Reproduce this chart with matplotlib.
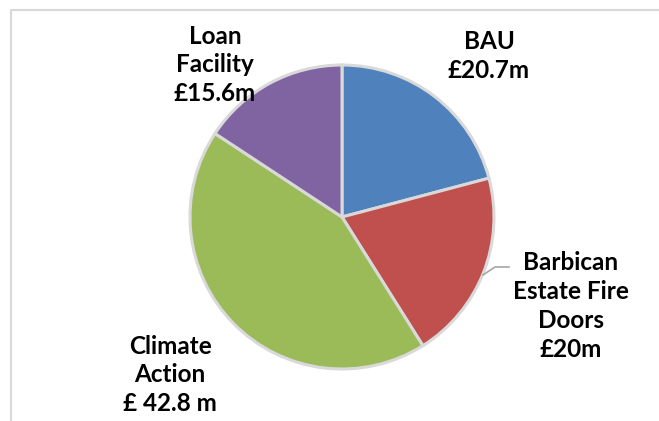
import matplotlib
matplotlib.use("Agg")
import matplotlib.pyplot as plt
from matplotlib.lines import Line2D

# -----------------------------------------
# DATOS
# -----------------------------------------
categorias = ["BAU", "Barbican\nEstate Fire\nDoors", "Climate\nAction", "Loan\nFacility"]
valores = [20.7, 20.0, 42.8, 15.6]
etiquetas = ["£20.7m", "£20m", "£ 42.8 m", "£15.6m"]
colores = ["#4F81BD", "#C0504D", "#9BBB59", "#8064A2"]

W, H = 659, 421
fig = plt.figure(figsize=(W / 100, H / 100), dpi=100)
ax = fig.add_axes([0, 0, 1, 1])

# pie centre / radius in pixel units (y from bottom)
cx, cy, r = 342, H - 217, 152

ax.pie(
    valores,
    colors=colores,
    startangle=90,
    counterclock=False,
    center=(cx, cy),
    radius=r,
    frame=True,
    wedgeprops=dict(edgecolor="#d9d9d9", linewidth=2.2),
)
ax.set_xlim(0, W)
ax.set_ylim(0, H)
ax.set_aspect("equal")
ax.axis("off")

# label positions (centre of text block)
pos = [(489, H - 56), (571, H - 306), (170, H - 375), (215, H - 65)]

for nombre, etq, (x, y) in zip(categorias, etiquetas, pos):
    ax.text(
        x, y, f"{nombre}\n{etq}",
        ha="center", va="center",
        fontsize=17.5, fontweight="bold", family="Lato",
        linespacing=1.3, color="black",
    )

# leader line for Barbican
ax.plot([483, 495, 509], [H - 275, H - 267, H - 267], color="#a6a6a6", linewidth=1.2)

# chart frame (cut off right/bottom)
fig.add_artist(Line2D([11 / W, 11 / W, 1], [0, 1 - 10 / H, 1 - 10 / H],
                      transform=fig.transFigure, color="#d9d9d9", linewidth=1.5))

fig.savefig("out.png", dpi=100)
